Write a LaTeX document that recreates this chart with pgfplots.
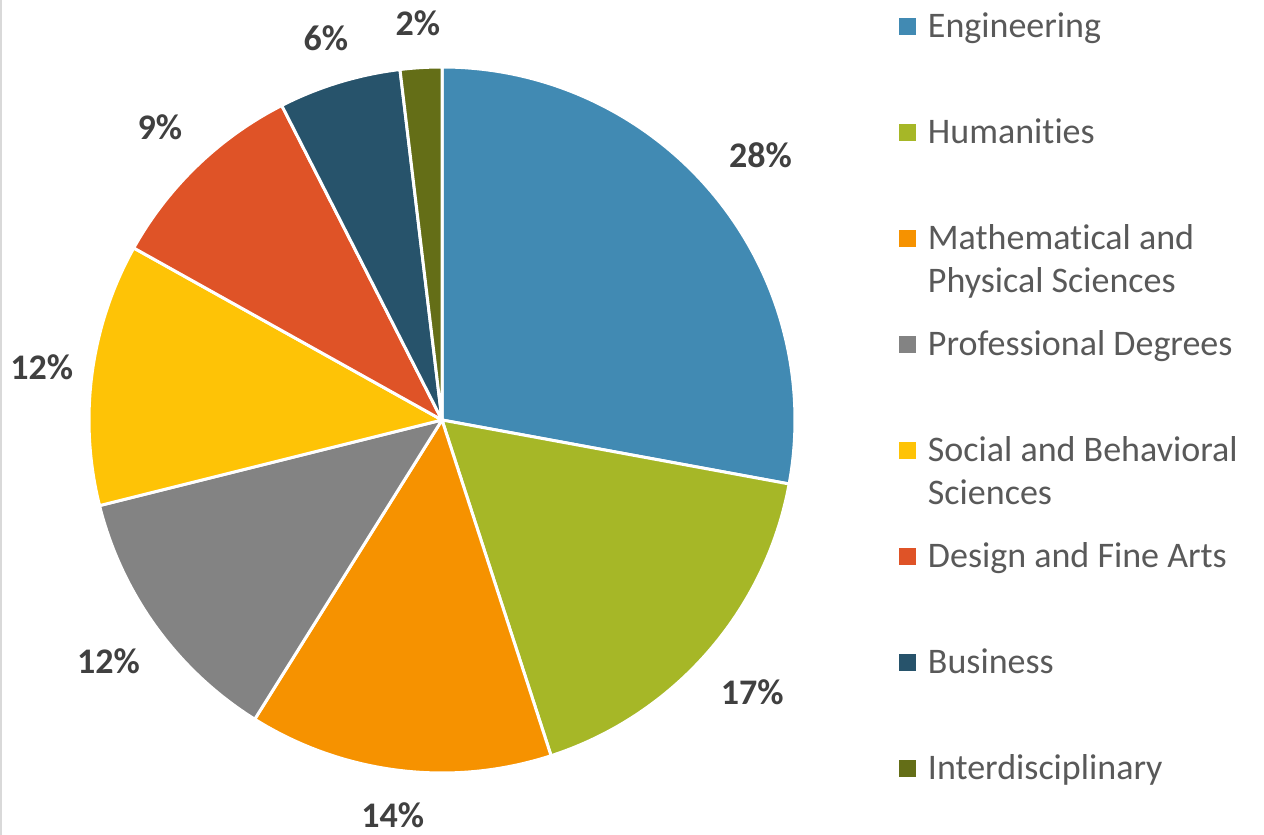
\documentclass[border=0pt]{standalone}
\usepackage{fontspec}
\setmainfont{Carlito}[Ligatures=CommonOff]
\usepackage{pgfplots}
\usepackage{pgfplotstable}
\pgfplotsset{compat=1.18}

\definecolor{cEng}{HTML}{418AB3}
\definecolor{cHum}{HTML}{A6B727}
\definecolor{cMat}{HTML}{F69200}
\definecolor{cPro}{HTML}{838383}
\definecolor{cSoc}{HTML}{FEC306}
\definecolor{cDes}{HTML}{DF5327}
\definecolor{cBus}{HTML}{27536B}
\definecolor{cInt}{HTML}{646E17}
\definecolor{legtext}{HTML}{595959}
\definecolor{labtext}{HTML}{404040}

% share of each field, clockwise from 12 o'clock
\pgfplotstableread{
value color
27.9  cEng
17.1  cHum
13.9  cMat
12.2  cPro
12.0  cSoc
9.4   cDes
5.6   cBus
1.9   cInt
}\piedata

% label box is padded so it sits off the rim like Excel's "outside end"
\tikzset{pct/.style={font=\fontsize{36}{43.2}\selectfont\bfseries, text=labtext,
  inner xsep=5pt, inner ysep=18pt}}

\begin{document}
\begin{tikzpicture}
\path[use as bounding box] (0,0) rectangle (1264pt,835pt);
\draw[black!15, line width=2pt] (1pt,0) -- (1pt,835pt);
\begin{axis}[
  at={(0,0)}, anchor=south west,
  x=1pt, y=1pt, xmin=0, xmax=1264, ymin=0, ymax=835,
  hide axis, clip=false,
  legend image code/.code={\path[#1, draw=none] (0pt,2pt) rectangle (17pt,19pt);},
  legend style={at={(0.7112,0.9868)}, anchor=north west, draw=none, fill=none,
    inner sep=0pt, outer sep=0pt, row sep=72pt, column sep=12pt,
    font=\fontsize{36}{43.2}\selectfont, text=legtext,
    nodes={inner sep=0pt, text height=26pt, text depth=8pt},
    cells={anchor=base west}},
]
\gdef\angstart{90}
\pgfplotsforeachungrouped \i in {0,...,7}{%
  \pgfplotstablegetelem{\i}{value}\of\piedata \let\v\pgfplotsretval
  \pgfplotstablegetelem{\i}{color}\of\piedata \let\c\pgfplotsretval
  \pgfmathsetmacro\angend{\angstart-3.6*\v}%
  \pgfmathsetmacro\angmid{(\angstart+\angend)/2}%
  \pgfmathsetmacro\anc{\angmid+180}%
  \pgfmathsetmacro\lx{442+367*cos(\angmid)}%
  \pgfmathsetmacro\ly{415+367*sin(\angmid)}%
  \pgfmathtruncatemacro\pc{round(\v)}%
  \edef\temp{%
    \noexpand\fill[\c, draw=white, line width=3pt, line join=round]
      (axis cs:442,415) -- ++(\angstart:353pt)
      arc[start angle=\angstart, end angle=\angend, radius=353pt] -- cycle;
    \noexpand\node[pct, anchor=\anc] at (axis cs:\lx,\ly) {\pc\noexpand\%};
  }\temp
  \global\let\angstart\angend
}
\addlegendimage{fill=cEng}\addlegendentry{Engineering}
\addlegendimage{fill=cHum}\addlegendentry{Humanities}
\addlegendimage{fill=cMat}\addlegendentry{\smash{\begin{tabular}[t]{@{}l@{}}Mathematical and\\Physical Sciences\end{tabular}}}
\addlegendimage{fill=cPro}\addlegendentry{Professional Degrees}
\addlegendimage{fill=cSoc}\addlegendentry{\smash{\begin{tabular}[t]{@{}l@{}}Social and Behavioral\\Sciences\end{tabular}}}
\addlegendimage{fill=cDes}\addlegendentry{Design and Fine Arts}
\addlegendimage{fill=cBus}\addlegendentry{Business}
\addlegendimage{fill=cInt}\addlegendentry{Interdisciplinary}
\end{axis}
\end{tikzpicture}
\end{document}
